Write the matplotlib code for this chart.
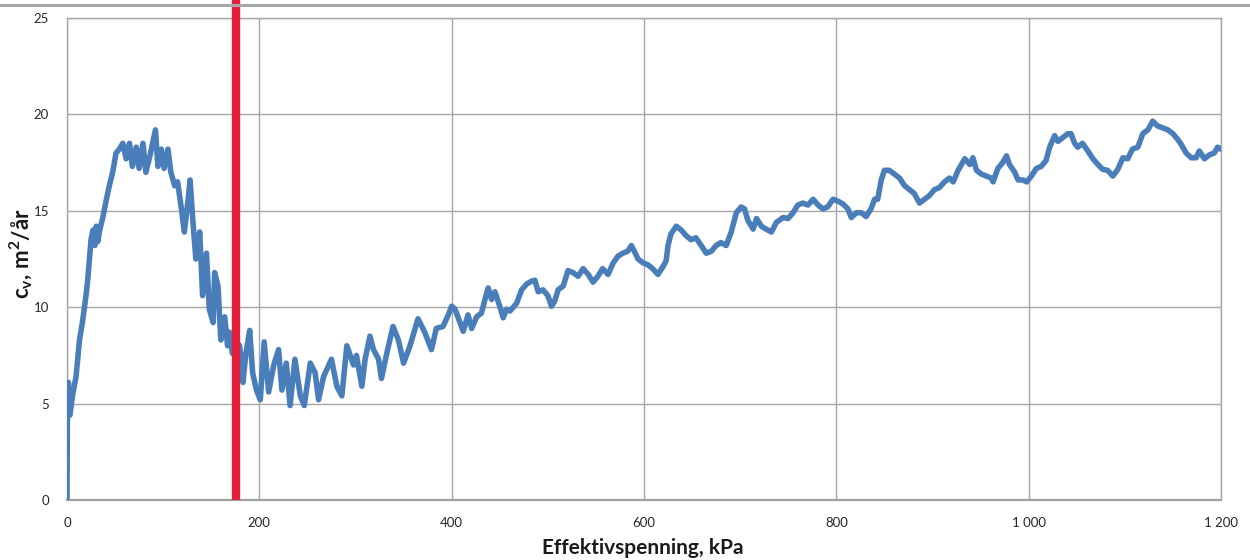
import matplotlib
matplotlib.use("Agg")
import matplotlib.pyplot as plt
from matplotlib.lines import Line2D

plt.rcParams['font.family'] = ['Lato', 'DejaVu Sans']
plt.rcParams['mathtext.fontset'] = 'custom'
plt.rcParams['mathtext.bf'] = 'Lato:bold'
plt.rcParams['mathtext.rm'] = 'Lato:bold'
plt.rcParams['mathtext.it'] = 'Lato:bold'

# Effective stress (kPa) and cv (m2/year)
stress = [0, 0.5, 1.5, 3, 6, 9.4, 13, 16, 20, 21.5, 25, 27, 29, 30.5, 32, 34, 37, 41, 44, 47.5,
          51, 54.5, 58, 61.5, 65, 68, 72, 75, 79, 82, 86, 89, 92, 94.5, 98, 101, 105, 108, 112, 115,
          119, 122, 126, 128, 131, 134, 138, 141, 145, 148, 152, 153.5, 157, 160, 164, 167, 169, 172, 176, 179.5,
          183, 186, 190, 193, 197, 201, 205, 209.7, 215, 220, 223.5, 228, 232, 237, 242.6, 246.7, 253, 258, 261.6, 266.8,
          275, 280.6, 285.8, 291, 298, 301, 306.6, 310, 315, 318.7, 324, 327, 332.5, 339, 344.6, 350, 356.7, 365, 372, 379,
          384, 391, 396.5, 400, 403.5, 408.7, 412, 417, 420.8, 426, 431, 434.6, 438, 441.5, 445, 450, 453.6, 457, 460.6, 464,
          467.5, 472.7, 478, 483, 486.5, 490, 495, 500, 503.8, 507, 510.7, 516, 521, 526, 531.5, 536.7, 542, 547, 552, 557,
          562.6, 568, 573, 578, 583, 586.9, 590, 593.8, 599, 604, 609, 614.5, 619.7, 623, 625, 628, 633.6, 638.8, 644, 649,
          654, 659.5, 664.7, 670, 675, 680, 685.5, 690.7, 696, 701, 704.5, 708, 713.5, 717, 722, 727, 732.5, 737.7, 744.6, 749.8,
          755, 760, 765, 770.6, 775.8, 781, 786, 791, 796.5, 801.7, 807, 812, 815.6, 820.8, 826, 831, 836, 839.8, 843, 846.7,
          850, 855, 860.5, 865.7, 871, 876, 881, 886.5, 891.7, 897, 902, 907, 912.5, 917.6, 921.5, 926.6, 933.6, 938.8, 942, 945.7,
          951, 956, 961, 963, 968, 973, 977, 980, 985.5, 989, 994, 998, 1002.8, 1008, 1013, 1018, 1021.8, 1027, 1030.4, 1035.6,
          1040.8, 1044, 1047.8, 1051, 1056, 1061.6, 1066.8, 1072, 1077, 1082, 1087.5, 1092.7, 1098, 1103, 1108, 1113.5, 1118.7, 1124, 1129, 1134,
          1139.5, 1144.6, 1150, 1155, 1158.5, 1163.7, 1169, 1174, 1177.5, 1182.7, 1188, 1193, 1196.5, 1200]
cv = [0, 5.7, 6.1, 4.4, 5.5, 6.4, 8.3, 9.2, 10.7, 11.4, 13.5, 14.0, 13.2, 14.2, 13.4, 14.0, 14.6, 15.6, 16.3, 17.0,
      18.0, 18.2, 18.5, 17.7, 18.5, 17.3, 18.3, 17.2, 18.5, 17.0, 17.8, 18.5, 19.2, 17.3, 18.2, 17.2, 18.2, 17.0, 16.3, 16.5,
      15.1, 13.9, 15.6, 16.6, 14.4, 12.5, 13.9, 10.6, 12.8, 9.9, 9.2, 11.8, 11.1, 8.3, 9.5, 8.0, 8.7, 7.6, 8.2, 8.0,
      6.1, 7.6, 8.8, 6.6, 5.7, 5.2, 8.2, 5.6, 7.0, 7.8, 5.7, 7.1, 4.9, 7.3, 5.4, 4.9, 7.1, 6.6, 5.2, 6.4,
      7.3, 5.9, 5.4, 8.0, 7.0, 7.5, 5.9, 7.3, 8.5, 7.8, 7.3, 6.3, 7.6, 9.0, 8.3, 7.1, 8.0, 9.4, 8.7, 7.8,
      8.9, 9.0, 9.6, 10.05, 9.9, 9.2, 8.75, 9.6, 8.9, 9.5, 9.7, 10.4, 11.0, 10.4, 10.8, 10.05, 9.45, 9.9, 9.8, 10.0,
      10.2, 10.9, 11.2, 11.35, 11.4, 10.8, 10.9, 10.6, 10.05, 10.3, 10.9, 11.1, 11.9, 11.8, 11.6, 12.0, 11.7, 11.3, 11.6, 12.0,
      11.7, 12.3, 12.65, 12.8, 12.9, 13.2, 12.9, 12.5, 12.3, 12.2, 12.0, 11.7, 12.1, 12.4, 13.2, 13.8, 14.2, 14.0, 13.7, 13.5,
      13.6, 13.2, 12.8, 12.9, 13.2, 13.35, 13.2, 13.9, 14.9, 15.2, 15.1, 14.5, 14.05, 14.6, 14.2, 14.05, 13.9, 14.4, 14.65, 14.6,
      14.9, 15.3, 15.4, 15.3, 15.6, 15.3, 15.1, 15.2, 15.6, 15.5, 15.35, 15.1, 14.65, 14.9, 14.9, 14.7, 15.1, 15.6, 15.6, 16.6,
      17.1, 17.1, 16.9, 16.7, 16.3, 16.1, 15.9, 15.4, 15.6, 15.8, 16.1, 16.2, 16.5, 16.7, 16.5, 17.1, 17.7, 17.4, 17.75, 17.1,
      16.9, 16.8, 16.7, 16.5, 17.2, 17.5, 17.85, 17.4, 17.0, 16.6, 16.6, 16.5, 16.8, 17.2, 17.3, 17.6, 18.3, 18.9, 18.6, 18.8,
      19.0, 19.0, 18.5, 18.3, 18.5, 18.1, 17.7, 17.4, 17.15, 17.1, 16.8, 17.15, 17.75, 17.7, 18.2, 18.3, 19.0, 19.2, 19.65, 19.4,
      19.3, 19.2, 19.0, 18.7, 18.45, 18.0, 17.75, 17.75, 18.1, 17.7, 17.9, 18.0, 18.3, 18.2]

marker_stress = 176
x_ticks = [0, 200, 400, 600, 800, 1000, 1200]
x_tick_labels = ['0', '200', '400', '600', '800', '1 000', '1 200']
y_ticks = [0, 5, 10, 15, 20, 25]

fig = plt.figure(figsize=(12.5, 5.6), dpi=100)
ax = fig.add_axes([67/1250, 1 - 500/560, (1221 - 67)/1250, (500 - 18)/560])

grid_c = '#a6a6a6'
ax.set_xlim(0, 1200)
ax.set_ylim(0, 25)
ax.set_xticks(x_ticks)
ax.set_xticklabels(x_tick_labels)
ax.set_yticks(y_ticks)
ax.grid(True, color=grid_c, lw=1.0)
ax.set_axisbelow(True)
for s in ['left', 'right', 'top']:
    ax.spines[s].set_color(grid_c)
    ax.spines[s].set_linewidth(1.0)
ax.spines['bottom'].set_color('#a0a0a0')
ax.spines['bottom'].set_linewidth(1.6)
ax.tick_params(axis='both', length=0, labelsize=9.5, colors='#262626')
ax.tick_params(axis='x', pad=12)
ax.tick_params(axis='y', pad=13)

ax.plot(stress, cv, color='#4a7ebb', lw=4.0, solid_joinstyle='round', zorder=3)
ax.plot([marker_stress, marker_stress], [0, 26.5], color='#e31e3a', lw=6, clip_on=False, zorder=4,
        solid_capstyle='butt')

fig.text(643/1250, 1 - 548/560, 'Effektivspenning, kPa', fontsize=15, fontweight='bold',
         ha='center', va='center', color='#1a1a1a')
fig.text(21/1250, 1 - 254/560, r'$\mathbf{c_v}$, m$^\mathbf{2}$/år', fontsize=16, fontweight='bold',
         ha='center', va='center', rotation=90, color='#1a1a1a')

fig.add_artist(Line2D([0, 1], [1 - 5/560, 1 - 5/560], color='#a8a8a8', lw=2.2))

fig.savefig('out.png', dpi=100)
